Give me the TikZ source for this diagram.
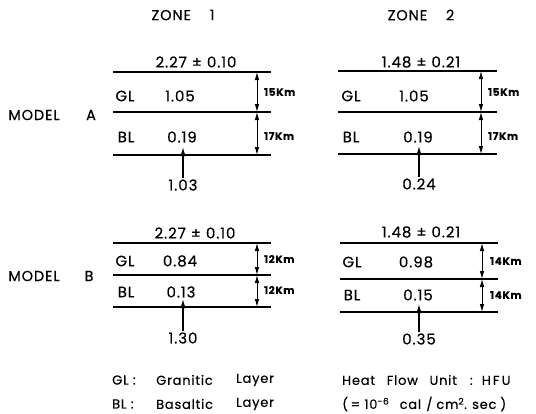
\documentclass[tikz,border=0pt]{standalone}
\usepackage{fontspec}
\setmainfont[LetterSpace=6,FakeBold=0.4]{Poppins}
\usetikzlibrary{arrows.meta}
\tikzset{
  layerline/.style={line width=1.1pt},
  dimarrow/.style={line width=0.9pt,{Latex[length=8pt,width=4.6pt]}-{Latex[length=8pt,width=4.6pt]}},
  heatarrow/.style={line width=1.3pt,-{Latex[length=9pt,width=5.5pt]}},
  lbl/.style={font=\fontsize{14.5}{16}\selectfont,inner sep=1pt},
  val/.style={font=\fontsize{15}{17}\selectfont,inner sep=1pt},
  km/.style={font=\fontsize{10.5}{12}\selectfont\bfseries,inner sep=1pt,anchor=west},
  legend/.style={font=\fontsize{13}{15}\selectfont,inner sep=1pt,anchor=west},
}
\newcommand\layerpanel[7]{%
  \coordinate (#1-tl) at (#2,#4); \coordinate (#1-tr) at (#3,#4);
  \coordinate (#1-ml) at (#2,#5); \coordinate (#1-mr) at (#3,#5);
  \coordinate (#1-bl) at (#2,#6); \coordinate (#1-br) at (#3,#6);
  \coordinate (#1-dt) at (#7,#4); \coordinate (#1-dm) at (#7,#5); \coordinate (#1-db) at (#7,#6);
  \draw[layerline] (#1-tl) -- (#1-tr);
  \draw[layerline] (#1-ml) -- (#1-mr);
  \draw[layerline] (#1-bl) -- (#1-br);
  \draw[dimarrow] (#1-dt) -- (#1-dm);
  \draw[dimarrow] (#1-dm) -- (#1-db);
}
\begin{document}
\begin{tikzpicture}[x=1pt,y=-1pt]
\useasboundingbox (0,0) rectangle (536,413);
% zone titles
\node[lbl] (z1) at (183,15) {ZONE\hspace{1.3em}1};
\node[lbl] (z2) at (421,15) {ZONE\hspace{1.3em}2};
% model labels
\node[lbl] (mA) at (34,115) {MODEL};
\node[lbl] (mAl) at (91,115) {A};
\node[lbl] (mB) at (34,276) {MODEL};
\node[lbl] (mBl) at (89,276) {B};
% panels
\layerpanel{a1}{113}{271}{72}{112}{155}{257}
\layerpanel{a2}{338}{497}{71}{112}{154}{481}
\layerpanel{b1}{113}{271}{243}{275}{307}{257}
\layerpanel{b2}{340}{498}{243}{279}{312}{482}
% model A zone 1
\node[val] (a1top) at (196,62) {2.27 ± 0.10};
\node[val] (a1gl) at (125,96) {GL};
\node[val] (a1gv) at (180,96) {1.05};
\node[val] (a1bl) at (126,137) {BL};
\node[val] (a1bv) at (182,137) {0.19};
\node[km] (a1k1) at (263,92) {15Km};
\node[km] (a1k2) at (263,136) {17Km};
\node[val] (a1q) at (183,185) {1.03};
\coordinate (a1h) at (183,147);
\draw[heatarrow] (a1q.north) -- (a1h);
% model A zone 2
\node[val] (a2top) at (421,62) {1.48 ± 0.21};
\node[val] (a2gl) at (351,96) {GL};
\node[val] (a2gv) at (414,96) {1.05};
\node[val] (a2bl) at (351,137) {BL};
\node[val] (a2bv) at (418,137) {0.19};
\node[km] (a2k1) at (487,92) {15Km};
\node[km] (a2k2) at (487,136) {17Km};
\node[val] (a2q) at (419,184) {0.24};
\coordinate (a2h) at (419,146);
\draw[heatarrow] (a2q.north) -- (a2h);
% model B zone 1
\node[val] (b1top) at (195,233) {2.27 ± 0.10};
\node[val] (b1gl) at (125,261) {GL};
\node[val] (b1gv) at (180,261) {0.84};
\node[val] (b1bl) at (126,292) {BL};
\node[val] (b1bv) at (181,292) {0.13};
\node[km] (b1k1) at (263,259) {12Km};
\node[km] (b1k2) at (263,290) {12Km};
\node[val] (b1q) at (183,338) {1.30};
\coordinate (b1h) at (183,299);
\draw[heatarrow] (b1q.north) -- (b1h);
% model B zone 2
\node[val] (b2top) at (421,232) {1.48 ± 0.21};
\node[val] (b2gl) at (352,262) {GL};
\node[val] (b2gv) at (416,262) {0.98};
\node[val] (b2bl) at (352,295) {BL};
\node[val] (b2bv) at (418,295) {0.15};
\node[km] (b2k1) at (489,261) {14Km};
\node[km] (b2k2) at (489,295) {14Km};
\node[val] (b2q) at (419,339) {0.35};
\coordinate (b2h) at (419,304);
\draw[heatarrow] (b2q.north) -- (b2h);
% legend
\node[legend] (lg1) at (111,380) {GL :};
\node[legend] (lg2) at (155,380) {Granitic};
\node[legend] (lg3) at (235,380) {Layer};
\node[legend] (lb1) at (111,404) {BL :};
\node[legend] (lb2) at (155,404) {Basaltic};
\node[legend] (lb3) at (235,404) {Layer};
\node[legend] (hf1) at (341,380) {Heat\hspace{0.9em}Flow\hspace{0.9em}Unit\hspace{1em}:\hspace{0.7em}H\,F\,U};
\node[legend] (hf2) at (341,404) {(\hspace{0.2em}= 10\textsuperscript{-6}\hspace{0.8em}cal\hspace{0.4em}/\hspace{0.3em}cm\textsuperscript{2}.\hspace{0.4em}sec\hspace{0.3em})};
\end{tikzpicture}
\end{document}
